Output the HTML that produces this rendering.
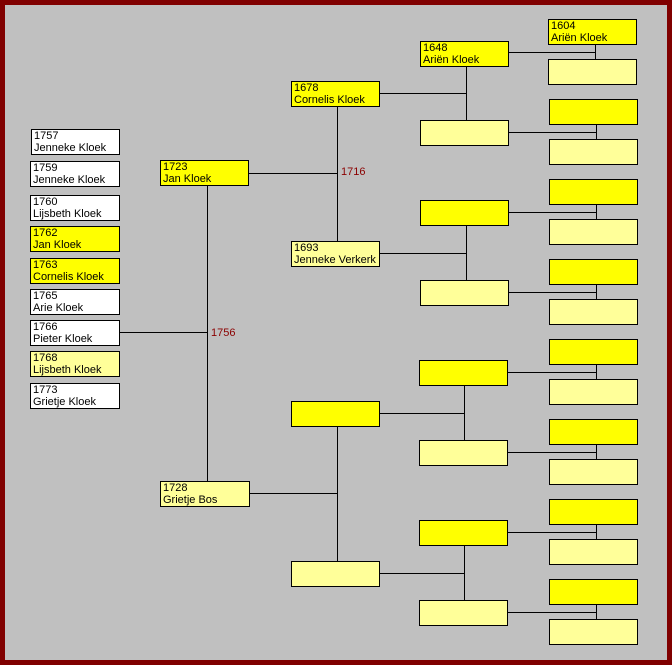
<!DOCTYPE html>
<html><head><style>
body{margin:0;width:672px;height:665px;background:#800000;position:relative;overflow:hidden;font-family:"Liberation Sans",sans-serif;}
#bg{position:absolute;left:5px;top:5px;width:662px;height:655px;background:#c0c0c0;}
.b{position:absolute;box-sizing:border-box;border:1px solid #000;font-size:11px;line-height:12px;padding:0 0 0 2px;color:#000;white-space:nowrap;overflow:hidden;}
.w{background:#fff}.y{background:#ffff00}.l{background:#ffff99}
.t{position:absolute;font-size:11px;color:#8b0000;line-height:12px}
svg{position:absolute;left:0;top:0}
</style></head><body>
<div id="bg"></div>
<svg width="672" height="665">
<g stroke="#000" stroke-width="1" fill="none" shape-rendering="crispEdges">
<path d="M119 332.5H207.5M207.5 186V481"/>
<path d="M249 173.5H337.5M337.5 106V241"/>
<path d="M249 493.5H337.5M337.5 426V561"/>
<path d="M380 93.5H466.5M466.5 66V120"/>
<path d="M380 253.5H466.5M466.5 225V280"/>
<path d="M380 413.5H464.5M464.5 385V440"/>
<path d="M380 573.5H464.5M464.5 545V600"/>
<path d="M508 52.5H595.5M595.5 44V59"/>
<path d="M508 132.5H596.5M596.5 124V139"/>
<path d="M508 212.5H596.5M596.5 204V219"/>
<path d="M508 292.5H596.5M596.5 284V299"/>
<path d="M508 372.5H596.5M596.5 364V379"/>
<path d="M508 452.5H596.5M596.5 444V459"/>
<path d="M508 532.5H596.5M596.5 524V539"/>
<path d="M508 612.5H596.5M596.5 604V619"/>
</g></svg>
<div class="t" style="left:211px;top:327px">1756</div>
<div class="t" style="left:341px;top:166px">1716</div>

<div class="b w" style="left:31px;top:129px;width:89px;height:26px">1757<br>Jenneke Kloek</div>
<div class="b w" style="left:30px;top:161px;width:90px;height:26px">1759<br>Jenneke Kloek</div>
<div class="b w" style="left:30px;top:195px;width:90px;height:26px">1760<br>Lijsbeth Kloek</div>
<div class="b y" style="left:30px;top:226px;width:90px;height:26px">1762<br>Jan Kloek</div>
<div class="b y" style="left:30px;top:258px;width:90px;height:26px">1763<br>Cornelis Kloek</div>
<div class="b w" style="left:30px;top:289px;width:90px;height:26px">1765<br>Arie Kloek</div>
<div class="b w" style="left:30px;top:320px;width:90px;height:26px">1766<br>Pieter Kloek</div>
<div class="b l" style="left:30px;top:351px;width:90px;height:26px">1768<br>Lijsbeth Kloek</div>
<div class="b w" style="left:30px;top:383px;width:90px;height:26px">1773<br>Grietje Kloek</div>

<div class="b y" style="left:160px;top:160px;width:89px;height:26px">1723<br>Jan Kloek</div>
<div class="b l" style="left:160px;top:481px;width:90px;height:26px">1728<br>Grietje Bos</div>

<div class="b y" style="left:291px;top:81px;width:89px;height:26px">1678<br>Cornelis Kloek</div>
<div class="b l" style="left:291px;top:241px;width:89px;height:26px">1693<br>Jenneke Verkerk</div>
<div class="b y" style="left:291px;top:401px;width:89px;height:26px"></div>
<div class="b l" style="left:291px;top:561px;width:89px;height:26px"></div>

<div class="b y" style="left:420px;top:41px;width:89px;height:26px">1648<br>Ariën Kloek</div>
<div class="b l" style="left:420px;top:120px;width:89px;height:26px"></div>
<div class="b y" style="left:420px;top:200px;width:89px;height:26px"></div>
<div class="b l" style="left:420px;top:280px;width:89px;height:26px"></div>
<div class="b y" style="left:419px;top:360px;width:89px;height:26px"></div>
<div class="b l" style="left:419px;top:440px;width:89px;height:26px"></div>
<div class="b y" style="left:419px;top:520px;width:89px;height:26px"></div>
<div class="b l" style="left:419px;top:600px;width:89px;height:26px"></div>

<div class="b y" style="left:548px;top:19px;width:89px;height:26px">1604<br>Ariën Kloek</div>
<div class="b l" style="left:548px;top:59px;width:89px;height:26px"></div>
<div class="b y" style="left:549px;top:99px;width:89px;height:26px"></div>
<div class="b l" style="left:549px;top:139px;width:89px;height:26px"></div>
<div class="b y" style="left:549px;top:179px;width:89px;height:26px"></div>
<div class="b l" style="left:549px;top:219px;width:89px;height:26px"></div>
<div class="b y" style="left:549px;top:259px;width:89px;height:26px"></div>
<div class="b l" style="left:549px;top:299px;width:89px;height:26px"></div>
<div class="b y" style="left:549px;top:339px;width:89px;height:26px"></div>
<div class="b l" style="left:549px;top:379px;width:89px;height:26px"></div>
<div class="b y" style="left:549px;top:419px;width:89px;height:26px"></div>
<div class="b l" style="left:549px;top:459px;width:89px;height:26px"></div>
<div class="b y" style="left:549px;top:499px;width:89px;height:26px"></div>
<div class="b l" style="left:549px;top:539px;width:89px;height:26px"></div>
<div class="b y" style="left:549px;top:579px;width:89px;height:26px"></div>
<div class="b l" style="left:549px;top:619px;width:89px;height:26px"></div>
</body></html>
